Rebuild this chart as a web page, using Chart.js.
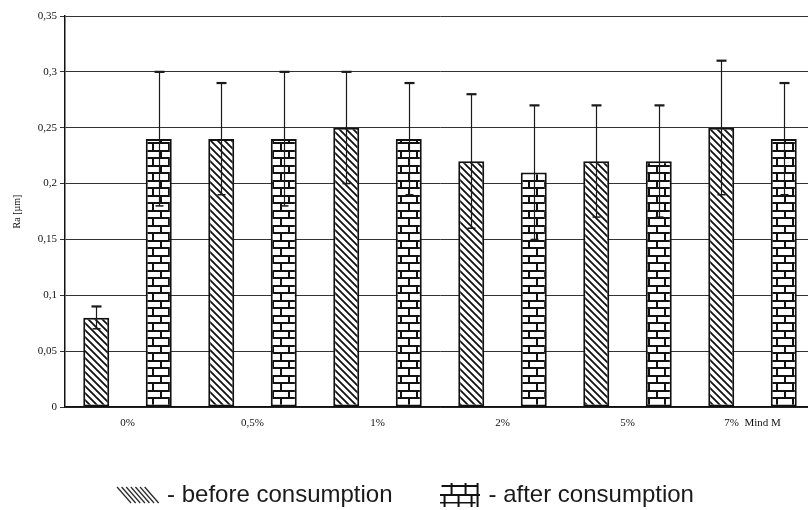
<!DOCTYPE html>
<html><head><meta charset="utf-8">
<script src="https://cdn.jsdelivr.net/npm/chart.js@4.4.1/dist/chart.umd.min.js"></script>
<style>
html,body{margin:0;padding:0;background:#fff;overflow:hidden;width:808px;height:510px;}
#wrap{position:absolute;left:0;top:0;width:816px;height:524px;}
</style></head>
<body><div id="wrap"><canvas id="c" width="816" height="524"></canvas></div>
<script>
const categories = ["0%", "0,5%", "1%", "2%", "5%", "7%  Mind M"];
const beforeValues = [0.08, 0.24, 0.25, 0.22, 0.22, 0.25];
const beforeErrors = [0.01, 0.05, 0.05, 0.06, 0.05, 0.06];
const afterValues = [0.24, 0.24, 0.24, 0.21, 0.22, 0.24];
const afterErrors = [0.06, 0.06, 0.05, 0.06, 0.05, 0.05];
const yTickLabels = ["0", "0,05", "0,1", "0,15", "0,2", "0,25", "0,3", "0,35"];
const seriesNames = ["- before consumption", "- after consumption"];
const yTitle = "Ra [\u00B5m]";

function hatchPattern(ctx){
  const s = 7, c = document.createElement('canvas'); c.width = s; c.height = s;
  const g = c.getContext('2d');
  g.fillStyle = '#fff'; g.fillRect(0,0,s,s);
  g.strokeStyle = '#111'; g.lineWidth = 1.8;
  g.beginPath();
  g.moveTo(-1,-1); g.lineTo(s+1,s+1);
  g.moveTo(-1,s-1); g.lineTo(1,s+1);
  g.moveTo(s-1,-1); g.lineTo(s+1,1);
  g.stroke();
  return ctx.createPattern(c,'repeat');
}
function brickPattern(ctx){
  const w = 16, h = 15, c = document.createElement('canvas'); c.width = w; c.height = h;
  const g = c.getContext('2d');
  g.fillStyle = '#fff'; g.fillRect(0,0,w,h);
  g.fillStyle = '#111';
  g.fillRect(0,0,w,2);
  g.fillRect(0,7,w,2);
  g.fillRect(0,0,2,8);
  g.fillRect(8,7,2,8);
  return ctx.createPattern(c,'repeat');
}
function hatchSwatch(){
  const c = document.createElement('canvas'); c.width = 44; c.height = 20;
  const g = c.getContext('2d');
  g.strokeStyle = '#222'; g.lineWidth = 1.2;
  for (let i = 0; i < 7; i++) {
    const x0 = 1 + i*4.6;
    g.beginPath(); g.moveTo(x0,2); g.lineTo(x0+14,18); g.stroke();
  }
  return c;
}
function brickSwatch(){
  const c = document.createElement('canvas'); c.width = 40; c.height = 24;
  const g = c.getContext('2d');
  g.fillStyle = '#111';
  g.fillRect(2,2,36,2);
  g.fillRect(0,11,40,2);
  g.fillRect(0,19,36,1.5);
  g.fillRect(11,0,2,13);
  g.fillRect(25,0,2,13);
  g.fillRect(37,0,2,24);
  g.fillRect(4,11,2,13);
  g.fillRect(18,11,2,13);
  g.fillRect(31,11,2,13);
  return c;
}

const canvas = document.getElementById('c');
const ctx = canvas.getContext('2d');
const swatches = [hatchSwatch(), brickSwatch()];

const errorBars = {
  id: 'errorBars',
  afterDatasetsDraw(chart){
    const c = chart.ctx, y = chart.scales.y;
    const errs = [beforeErrors, afterErrors];
    c.save();
    c.strokeStyle = '#1a1a1a';
    chart.data.datasets.forEach((ds, i) => {
      chart.getDatasetMeta(i).data.forEach((bar, j) => {
        const v = ds.data[j], e = errs[i][j];
        const yT = y.getPixelForValue(v + e), yB = y.getPixelForValue(v - e), x = Math.round(bar.x) + 0.5;
        c.lineWidth = 1.2;
        c.beginPath(); c.moveTo(x, yT); c.lineTo(x, yB); c.stroke();
        c.lineWidth = 2.2;
        c.beginPath(); c.moveTo(x-5, yT); c.lineTo(x+5, yT); c.stroke();
        c.lineWidth = 1.5;
        c.beginPath(); c.moveTo(x-4, yB); c.lineTo(x+4, yB); c.stroke();
      });
    });
    c.restore();
  }
};

new Chart(ctx, {
  type: 'bar',
  data: {
    labels: categories,
    datasets: [
      { label: seriesNames[0], data: beforeValues, backgroundColor: hatchPattern(ctx), borderColor: '#111', borderWidth: 2, borderSkipped: false },
      { label: seriesNames[1], data: afterValues, backgroundColor: brickPattern(ctx), borderColor: '#111', borderWidth: 2, borderSkipped: false }
    ]
  },
  options: {
    responsive: false,
    animation: false,
    devicePixelRatio: 1,
    barPercentage: 0.416,
    categoryPercentage: 1,
    layout: { padding: { top: 16, right: 1, left: 0, bottom: 7 } },
    scales: {
      x: {
        grid: { display: false, drawTicks: false },
        border: { display: true, color: '#111', width: 1.5 },
        ticks: { color: '#111', font: { family: 'Liberation Serif', size: 11 }, padding: 10, maxRotation: 0, autoSkip: false },
        afterFit(scale){ scale.height = 26; }
      },
      y: {
        min: 0, max: 0.35,
        grid: { color: '#333', lineWidth: 1, tickLength: 5 },
        border: { display: true, color: '#111', width: 1.5 },
        ticks: { stepSize: 0.05, color: '#111', padding: 3, font: { family: 'Liberation Serif', size: 11 },
          callback: (v) => yTickLabels[Math.round(v / 0.05)] },
        title: { display: true, text: yTitle, color: '#111', font: { family: 'Liberation Serif', size: 10 }, padding: { top: 11, bottom: 4 } },
        afterFit(scale){ scale.width = 65; }
      }
    },
    plugins: {
      tooltip: { enabled: false },
      legend: {
        position: 'bottom',
        labels: {
          usePointStyle: true,
          pointStyleWidth: 34,
          boxHeight: 24,
          padding: 50,
          color: '#1a1a1a',
          font: { family: 'Liberation Sans', size: 24 },
          generateLabels(chart){
            const items = Chart.defaults.plugins.legend.labels.generateLabels(chart);
            items.forEach((it, i) => { it.pointStyle = swatches[i]; it.lineWidth = 0; });
            return items;
          }
        }
      }
    }
  },
  plugins: [errorBars]
});
</script>
</body></html>
